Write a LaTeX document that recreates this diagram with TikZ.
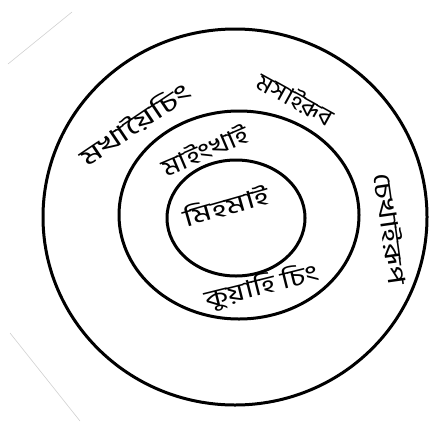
\documentclass[tikz,border=0pt]{standalone}
\usepackage{fontspec}
\newfontfamily\bnfont[Script=Bengali]{Hind Siliguri}
\begin{document}
\begin{tikzpicture}[x=1pt,y=-1pt,
  ring/.style={draw=black,line width=3pt},
  lbl/.style={font=\bnfont\fontsize{24}{28}\selectfont,inner sep=0pt},
  faint/.style={draw=black!18,line width=0.6pt}]
\useasboundingbox (0,0) rectangle (435,423);
\fill[white] (0,0) rectangle (435,423);
% faint paper edges
\coordinate (f1a) at (8,64);
\coordinate (f1b) at (72,12);
\coordinate (f2a) at (10,333);
\coordinate (f2b) at (80,421);
\draw[faint] (f1a) -- (f1b);
\draw[faint] (f2a) -- (f2b);
% circles
\draw[ring] (235,217) ellipse [x radius=192, y radius=188];
\draw[ring] (239,215) ellipse [x radius=120, y radius=104];
\draw[ring] (236,218) ellipse [x radius=69, y radius=58];
% labels outer
\node[lbl,rotate=34,xscale=1.5] (o1) at (135,124) {মখায়ৈচিং};
\node[lbl,rotate=-29,xscale=1.1] (o2) at (296,99) {মসাইরূব};
\node[lbl,rotate=-82,xscale=1.35] (o3) at (391,229) {চেখাইরূপ};
% middle ring
\node[lbl,rotate=23,xscale=1.25] (m1) at (205,150) {মাইংখাই};
\node[lbl,rotate=14,xscale=1.3] (m2) at (262,287) {কুয়াহি চিং};
% center
\node[lbl,rotate=16,xscale=1.4] (c1) at (226,205) {মিহমাই};
\end{tikzpicture}
\end{document}
